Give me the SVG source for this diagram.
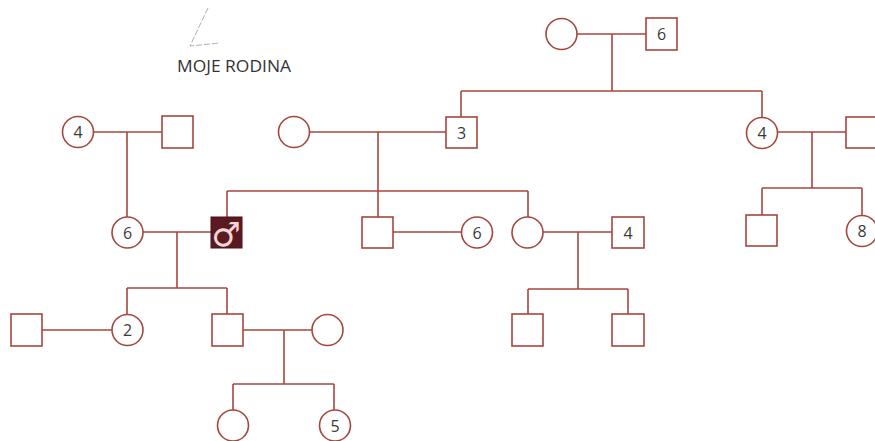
<svg xmlns="http://www.w3.org/2000/svg" width="875" height="441" viewBox="0 0 875 441">
<style>
.n{fill:#fff;stroke:#a5463e;stroke-width:1.6}
.c line{stroke:#a5463e;stroke-width:1.6}
.t{font-family:"Open Sans","Liberation Sans",Arial,sans-serif;font-size:16px;fill:#3a3a3a;text-anchor:middle;dominant-baseline:central}
.title{font-family:"Open Sans","Liberation Sans",Arial,sans-serif;font-size:16.5px;fill:#333}
</style>
<rect width="875" height="441" fill="#fff"/>
<path d="M208 8 L190 46 L220 43" fill="none" stroke="#999" stroke-width="0.8" stroke-dasharray="6 2"/>
<text class="title" x="177" y="72" textLength="114" lengthAdjust="spacingAndGlyphs">MOJE RODINA</text>
<g id="connectors" class="c">
<line x1="577" y1="34" x2="646" y2="34"/><line x1="612" y1="34" x2="612" y2="91"/>
<line x1="461" y1="91" x2="762" y2="91"/><line x1="461" y1="91" x2="461" y2="117"/><line x1="762" y1="91" x2="762" y2="117"/>
<line x1="93.5" y1="132" x2="162" y2="132"/><line x1="127" y1="132" x2="127" y2="217"/>
<line x1="309.5" y1="132" x2="446" y2="132"/><line x1="378" y1="132" x2="378" y2="191"/>
<line x1="227" y1="191" x2="528" y2="191"/><line x1="227" y1="191" x2="227" y2="217"/><line x1="378" y1="191" x2="378" y2="217"/><line x1="528" y1="191" x2="528" y2="217"/>
<line x1="777.5" y1="132" x2="846" y2="132"/><line x1="812" y1="132" x2="812" y2="188"/>
<line x1="762" y1="188" x2="862" y2="188"/><line x1="762" y1="188" x2="762" y2="215"/><line x1="862" y1="188" x2="862" y2="215"/>
<line x1="143" y1="232" x2="211" y2="232"/><line x1="177" y1="232" x2="177" y2="288"/>
<line x1="127" y1="288" x2="227" y2="288"/><line x1="127" y1="288" x2="127" y2="314"/><line x1="227" y1="288" x2="227" y2="314"/>
<line x1="393" y1="232" x2="461.5" y2="232"/>
<line x1="543" y1="232" x2="612" y2="232"/><line x1="578" y1="232" x2="578" y2="289"/>
<line x1="528" y1="289" x2="628" y2="289"/><line x1="528" y1="289" x2="528" y2="314"/><line x1="628" y1="289" x2="628" y2="314"/>
<line x1="42" y1="330" x2="112" y2="330"/>
<line x1="243" y1="330" x2="312" y2="330"/><line x1="284" y1="330" x2="284" y2="384"/>
<line x1="233" y1="384" x2="334" y2="384"/><line x1="233" y1="384" x2="233" y2="410"/><line x1="334" y1="384" x2="334" y2="410"/>
</g>
<g id="gf1"><circle class="n" cx="561.5" cy="34" r="15.5"/></g>
<g id="gm1"><rect class="n" x="646" y="18" width="31" height="32"/><text class="t" x="661.5" y="34">6</text></g>
<g id="gf2"><circle class="n" cx="78" cy="132" r="15.5"/><text class="t" x="78" y="132">4</text></g>
<g id="gm2"><rect class="n" x="162" y="116" width="31" height="32"/></g>
<g id="f2"><circle class="n" cx="294" cy="132" r="15.5"/></g>
<g id="m3"><rect class="n" x="446" y="117" width="31" height="31"/><text class="t" x="461.5" y="132.5">3</text></g>
<g id="f4"><circle class="n" cx="762" cy="133" r="15.5"/><text class="t" x="762" y="133">4</text></g>
<g id="m4"><rect class="n" x="846" y="117" width="31" height="31"/></g>
<g id="mother"><circle class="n" cx="127.5" cy="232.5" r="15.5"/><text class="t" x="127.5" y="232.5">6</text></g>
<g id="me"><rect x="211" y="217" width="31" height="31" fill="#5b1a22" stroke="#4a1218" stroke-width="1"/><text x="226" y="234" font-family="DejaVu Sans,sans-serif" font-size="33" fill="#f3d6d6" text-anchor="middle" dominant-baseline="central">♂</text></g>
<g id="uncle"><rect class="n" x="362" y="217" width="31" height="31"/></g>
<g id="aunt-in-law"><circle class="n" cx="477" cy="232.5" r="15.5"/><text class="t" x="477" y="232.5">6</text></g>
<g id="aunt"><circle class="n" cx="527.5" cy="232.5" r="15.5"/></g>
<g id="uncle-in-law"><rect class="n" x="612" y="217" width="32" height="31"/><text class="t" x="628" y="232.5">4</text></g>
<g id="cousin1"><rect class="n" x="746" y="215" width="31" height="31"/></g>
<g id="cousin2"><circle class="n" cx="862" cy="231" r="15.5"/><text class="t" x="862" y="231">8</text></g>
<g id="cousin3"><rect class="n" x="512" y="314" width="31" height="32"/></g>
<g id="cousin4"><rect class="n" x="612" y="314" width="32" height="32"/></g>
<g id="sil"><rect class="n" x="11" y="314" width="31" height="32"/></g>
<g id="daughter"><circle class="n" cx="127.5" cy="330" r="15.5"/><text class="t" x="127.5" y="330">2</text></g>
<g id="son"><rect class="n" x="212" y="314" width="31" height="32"/></g>
<g id="dil"><circle class="n" cx="327.5" cy="330" r="15.5"/></g>
<g id="gc1"><circle class="n" cx="233" cy="425.5" r="15.5"/></g>
<g id="gc2"><circle class="n" cx="335" cy="425.5" r="15.5"/><text class="t" x="335" y="425.5">5</text></g>
</svg>
